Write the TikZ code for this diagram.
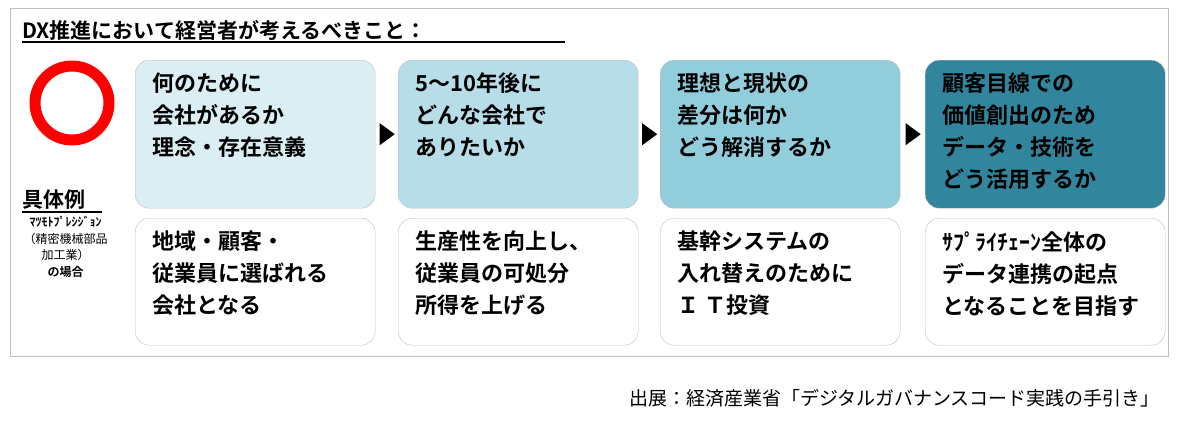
\documentclass[tikz,border=0pt]{standalone}
\usepackage{fontspec}
\setmainfont{Noto Sans CJK JP}
\newfontfamily\jpbold{Noto Sans CJK JP Bold}
\usetikzlibrary{positioning,calc}
\definecolor{stepA}{HTML}{DAEEF3}
\definecolor{stepB}{HTML}{B7DEE8}
\definecolor{stepC}{HTML}{92CDDC}
\definecolor{stepD}{HTML}{31859C}
\definecolor{frame}{HTML}{BFBFBF}
\tikzset{
  goalbox/.style={draw=frame,rounded corners=14pt,minimum width=240pt,minimum height=148pt,
    anchor=north west,align=left,text width=205pt,inner sep=0pt,
    font=\jpbold\fontsize{22}{32}\selectfont},
  casebox/.style={goalbox,fill=white,minimum height=127pt}
}
\begin{document}
\begin{tikzpicture}[x=1pt,y=1pt]
\useasboundingbox (0,0) rectangle (1182,-424);
\draw[frame,line width=1pt] (10,-8) rectangle (1168,-356);
\node[anchor=west,inner sep=0pt,font=\jpbold\fontsize{21}{21}\selectfont] (title) at (22,-30) {DX推進において経営者が考えるべきこと：};
\draw[line width=1.5pt] (22,-42) -- (565,-42);
\draw[red,line width=11pt] (72,-103) circle (37);
% top row
\node[goalbox,fill=stepA] (g1) at (135,-60) {};
\node[goalbox,fill=stepB] (g2) at (398,-60) {};
\node[goalbox,fill=stepC] (g3) at (660,-60) {};
\node[goalbox,fill=stepD] (g4) at (925,-60) {};
\foreach \n/\t in {g1/{何のために\\会社があるか\\理念・存在意義},
                   g2/{5〜10年後に\\どんな会社で\\ありたいか},
                   g3/{理想と現状の\\差分は何か\\どう解消するか},
                   g4/{顧客目線での\\価値創出のため\\データ・技術を\\どう活用するか}}
  \node[anchor=north west,align=left,inner sep=0pt,font=\jpbold\fontsize{22}{32}\selectfont]
    at ([xshift=17pt,yshift=-13pt]\n.north west) {\t};
% bottom row
\node[casebox] (c1) at (135,-218) {};
\node[casebox] (c2) at (398,-218) {};
\node[casebox] (c3) at (660,-218) {};
\node[casebox] (c4) at (925,-218) {};
\foreach \n/\t in {c1/{地域・顧客・\\従業員に選ばれる\\会社となる},
                   c2/{生産性を向上し、\\従業員の可処分\\所得を上げる},
                   c3/{基幹システムの\\入れ替えのために\\Ｉ Ｔ投資},
                   c4/{ｻﾌﾟﾗｲﾁｪｰﾝ全体の\\データ連携の起点\\となることを目指す}}
  \node[anchor=north west,align=left,inner sep=0pt,font=\jpbold\fontsize{22}{32}\selectfont]
    at ([xshift=17pt,yshift=-13pt]\n.north west) {\t};
% arrows between steps
\foreach \a/\b in {g1/g2,g2/g3,g3/g4}
  \fill ($(\a.east)!0.5!(\b.west)+(-7,-11)$) -- ++(15,11) -- ++(-15,11) -- cycle;
% example label
\node[anchor=west,inner sep=0pt,font=\jpbold\fontsize{21}{21}\selectfont] (ex) at (22,-200) {具体例};
\draw[line width=1.5pt] (22,-212) -- (102,-212);
\node[below=6pt of ex.south,xshift=12pt,align=center,inner sep=0pt,font=\fontsize{12}{16.5}\selectfont] (exname)
  {{\jpbold ﾏﾂﾓﾄﾌﾟﾚｼｼﾞｮﾝ}\\（精密機械部品\\加工業）\\{\jpbold の場合}};
\node[anchor=east,inner sep=0pt,font=\fontsize{19}{19}\selectfont] (src) at (1160,-398)
  {出展：経済産業省「デジタルガバナンスコード実践の手引き」};
\end{tikzpicture}
\end{document}
